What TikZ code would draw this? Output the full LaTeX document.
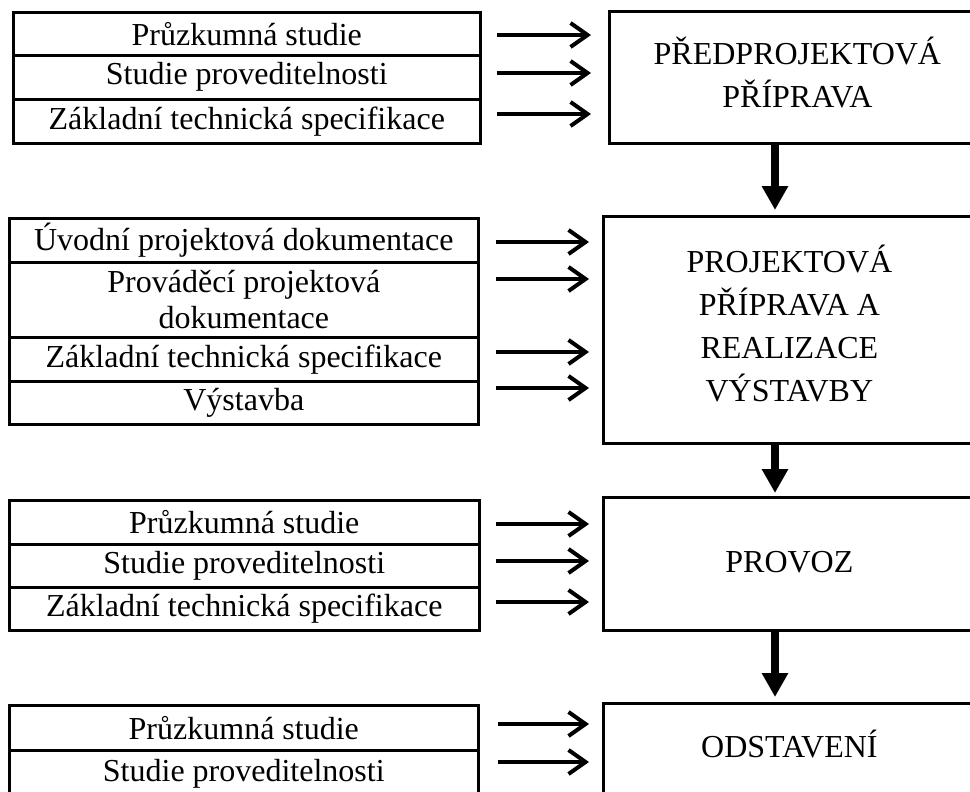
\documentclass[tikz,border=0pt]{standalone}
\usepackage{fontspec}
\setmainfont{Liberation Serif}
\usetikzlibrary{arrows.meta,calc}
\begin{document}
\begin{tikzpicture}[x=1pt,y=-1pt,
  cell/.style={draw,line width=2.6pt,anchor=north west,inner sep=0pt,align=center,font=\fontsize{32}{36}\selectfont},
  stage/.style={draw,line width=2.8pt,anchor=north west,inner sep=0pt},
  stagetext/.style={inner sep=0pt,align=center,font=\fontsize{32}{43}\selectfont},
  inarrow/.style={line width=4pt,-{Straight Barb[length=17pt,width=24pt]}},
  downarrow/.style={line width=7.5pt,-{Triangle[length=24pt,width=25pt]}}]
\useasboundingbox (0,0) rectangle (970,792);
\clip (0,0) rectangle (970,792);
% group 1
\node[cell,minimum width=467pt,minimum height=43pt] (c11) at (12,11) {Průzkumná studie};
\node[cell,minimum width=467pt,minimum height=44pt] (c12) at (12,54) {Studie proveditelnosti};
\node[cell,minimum width=467pt,minimum height=44pt] (c13) at (12,98) {Základní technická specifikace};
\node[stage,minimum width=380pt,minimum height=132pt] (b1) at (608,10) {};
\node[stagetext] (t1) at ([xshift=-2pt,yshift=5pt]b1.center) {PŘEDPROJEKTOVÁ\\PŘÍPRAVA};
% group 2
\node[cell,minimum width=469pt,minimum height=44pt] (c21) at (8,217) {Úvodní projektová dokumentace};
\node[cell,minimum width=469pt,minimum height=75pt] (c22) at (8,261) {Prováděcí projektová\\dokumentace};
\node[cell,minimum width=469pt,minimum height=44pt] (c23) at (8,336) {Základní technická specifikace};
\node[cell,minimum width=469pt,minimum height=43pt] (c24) at (8,380) {Výstavba};
\node[stage,minimum width=372pt,minimum height=227pt] (b2) at (602,215) {};
\node[stagetext] (t2) at ([yshift=6pt]b2.center) {PROJEKTOVÁ\\PŘÍPRAVA A\\REALIZACE\\VÝSTAVBY};
% group 3
\node[cell,minimum width=470pt,minimum height=44pt] (c31) at (8,499) {Průzkumná studie};
\node[cell,minimum width=470pt,minimum height=43pt] (c32) at (8,543) {Studie proveditelnosti};
\node[cell,minimum width=470pt,minimum height=43pt] (c33) at (8,586) {Základní technická specifikace};
\node[stage,minimum width=372pt,minimum height=133pt] (b3) at (602,496) {};
\node[stagetext] (t3) at ([yshift=2pt]b3.center) {PROVOZ};
% group 4
\node[cell,minimum width=469pt,minimum height=45pt] (c41) at (8,704) {Průzkumná studie};
\node[cell,minimum width=469pt,minimum height=46pt] (c42) at (8,749) {Studie proveditelnosti};
\node[stage,minimum width=372pt,minimum height=90pt] (b4) at (602,702) {};
\node[stagetext] (t4) at ([yshift=4pt]b4.center) {ODSTAVENÍ};
% arrow starts
\coordinate (s11) at (497,35);
\coordinate (s12) at (497,73);
\coordinate (s13) at (497,114);
\coordinate (s21) at (496,242);
\coordinate (s22) at (496,279);
\coordinate (s23) at (496,352);
\coordinate (s24) at (496,388);
\coordinate (s31) at (496,524);
\coordinate (s32) at (496,561);
\coordinate (s33) at (496,602);
\coordinate (s41) at (498,724);
\coordinate (s42) at (498,762);
\foreach \s in {s11,s12,s13}
  \draw[inarrow,shorten >=17pt] (\s) -- (\s -| b1.west);
\foreach \s in {s21,s22,s23,s24}
  \draw[inarrow,shorten >=13pt] (\s) -- (\s -| b2.west);
\foreach \s in {s31,s32,s33}
  \draw[inarrow,shorten >=13pt] (\s) -- (\s -| b3.west);
\foreach \s in {s41,s42}
  \draw[inarrow,shorten >=13pt] (\s) -- (\s -| b4.west);
% down arrows
\draw[downarrow,shorten >=5pt] ([xshift=167pt]b1.south west) -- ([xshift=173pt]b2.north west);
\draw[downarrow,shorten >=3pt] ([xshift=173pt]b2.south west) -- ([xshift=173pt]b3.north west);
\draw[downarrow,shorten >=5pt] ([xshift=173pt]b3.south west) -- ([xshift=173pt]b4.north west);
\end{tikzpicture}
\end{document}
